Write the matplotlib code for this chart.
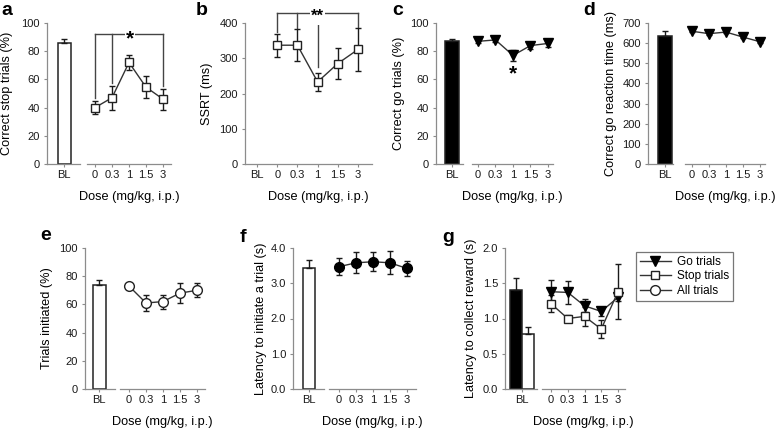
import matplotlib
matplotlib.use('Agg')
import matplotlib.pyplot as plt
from matplotlib.lines import Line2D

plt.rcParams['font.family'] = ['Liberation Sans', 'DejaVu Sans']

# ---------------- data ----------------
doses = ['0', '0.3', '1', '1.5', '3']
bl_label = 'BL'
xlabel_txt = 'Dose (mg/kg, i.p.)'

a_bl, a_bl_err = 86, 2.4
a_mean = [40, 47, 72, 54.5, 46]
a_err = [4.5, 8.4, 5.4, 8, 7.5]

b_mean = [337, 337, 233, 285, 325]
b_err = [33, 45, 25, 43, 60]

c_bl, c_bl_err = 87, 2
c_mean = [87, 88, 77, 84, 85.5]
c_err = [1.5, 1.5, 3.8, 2.5, 2.5]

d_bl, d_bl_err = 633, 28
d_mean = [659, 647, 655, 630, 607]
d_err = [6, 6, 6, 6, 6]

e_bl, e_bl_err = 74, 3
e_mean = [73, 61, 62, 68, 70]
e_err = [2, 6, 5, 7, 5]

f_bl, f_bl_err = 3.44, 0.21
f_mean = [3.47, 3.58, 3.61, 3.58, 3.42]
f_err = [0.24, 0.3, 0.27, 0.33, 0.21]

g_go_bl, g_go_bl_err = 1.40, 0.18
g_stop_bl, g_stop_bl_err = 0.78, 0.1
g_go = [1.38, 1.37, 1.18, 1.10, 1.30]
g_go_err = [0.17, 0.16, 0.09, 0.07, 0.05]
g_stop = [1.21, 1.0, 1.03, 0.85, 1.38]
g_stop_err = [0.12, 0.05, 0.14, 0.13, 0.39]
legend_labels = ['Go trials', 'Stop trials', 'All trials']

# ---------------- layout helpers ----------------
W, H = 776, 430
fig = plt.figure(figsize=(W / 100, H / 100), dpi=100)

SP = '#8c8c8c'
LC = '#333333'
EC = '#1a1a1a'
TICK_FS = 8
LAB_FS = 9.2
MS_SQ, MS_TRI, MS_CIR = 6.3, 7, 7


def add_ax(x0, x1, ytop, ybot):
    return fig.add_axes([x0 / W, 1 - ybot / H, (x1 - x0) / W, (ybot - ytop) / H])


def style(ax, left=True):
    for s in ['top', 'right']:
        ax.spines[s].set_visible(False)
    ax.spines['left'].set_visible(left)
    for s in ['left', 'bottom']:
        ax.spines[s].set_color(SP)
        ax.spines[s].set_linewidth(0.9)
    ax.tick_params(colors=SP, labelcolor='#1a1a1a', labelsize=TICK_FS,
                   length=2, width=0.8)
    ax.tick_params(axis='x', pad=2)
    ax.tick_params(axis='y', pad=3)
    if not left:
        ax.tick_params(axis='y', left=False, labelleft=False)
    ax.patch.set_visible(False)


def pair(x0, x1, c, d0, d1, t0, t4, ytop, ybot, ylim, yticks, yfmt, ylabel, ylab_right):
    axb = add_ax(x0, x1, ytop, ybot)
    axd = add_ax(d0, d1, ytop, ybot)
    style(axb)
    style(axd, left=False)
    for ax in (axb, axd):
        ax.set_ylim(*ylim)
    axb.set_yticks(yticks)
    axb.set_yticklabels([yfmt % v for v in yticks])
    axb.set_xlim(x0 - c, x1 - c)
    axb.set_xticks([0])
    axb.set_xticklabels([bl_label])
    step = (t4 - t0) / 4
    axd.set_xlim(-(t0 - d0) / step, 4 + (d1 - t4) / step)
    axd.set_xticks(range(5))
    axd.set_xticklabels(doses)
    axb.set_ylabel(ylabel, fontsize=LAB_FS)
    axb.yaxis.set_label_coords((ylab_right - x0) / (x1 - x0), 0.5)
    axd.set_xlabel(xlabel_txt, fontsize=LAB_FS)
    axd.xaxis.set_label_coords(0.5, -(27) / (ybot - ytop))
    return axb, axd


def line(ax, x, m, e, marker, mfc, ms, mec='#222'):
    ax.errorbar(x, m, yerr=e, fmt='-', color=LC, lw=1, ecolor=EC, elinewidth=1,
                capsize=2.5, capthick=1, marker=marker, ms=ms, mfc=mfc, mec=mec,
                mew=1, zorder=3)
    for art in ax.lines + ax.collections:
        art.set_clip_on(False)


def bar(ax, x, v, e, fc, w):
    ax.bar([x], [v], width=w, color=fc, edgecolor='#222', linewidth=1.1, zorder=2)
    ax.errorbar([x], [v], yerr=[[0], [e]], fmt='none', ecolor=EC, elinewidth=1,
                capsize=2.5, capthick=1, zorder=2)
    for art in ax.lines + ax.collections:
        art.set_clip_on(False)


def plabel(x, y, t):
    fig.text(x / W, 1 - y / H, t, fontsize=14, fontweight='bold', va='baseline', ha='left')


x5 = list(range(5))
TOP = (23, 164)
BOT = (248, 389)
BR = '#444444'

# ---------------- panel a ----------------
axb, axd = pair(47, 80, 64, 87, 171, 95, 163, *TOP, (0, 100), range(0, 101, 20), '%d',
                'Correct stop trials (%)', 13)
bar(axb, 0, a_bl, a_bl_err, 'white', 13)
line(axd, x5, a_mean, a_err, 's', 'white', MS_SQ)
yb = 92.5
axd.plot([0, 4], [yb, yb], color=BR, lw=1, clip_on=False)
for i in [0, 1, 4]:
    axd.plot([i, i], [yb, a_mean[i] + a_err[i] + 2], color=BR, lw=1, clip_on=False)
axd.text(2.05, yb - 3.5, '*', ha='center', va='center', fontsize=15, fontweight='bold',
         bbox=dict(facecolor='white', edgecolor='none', pad=0.5))
plabel(1, 15, 'a')

# ---------------- panel b ----------------
axb2 = add_ax(245, 372, *TOP)
style(axb2)
step = (358 - 257) / 5
axb2.set_xlim(-(257 - 245) / step, 5 + (372 - 358) / step)
axb2.set_ylim(0, 400)
axb2.set_yticks(range(0, 401, 100))
axb2.set_xticks(range(6))
axb2.set_xticklabels([bl_label] + doses)
axb2.set_ylabel('SSRT (ms)', fontsize=LAB_FS)
axb2.yaxis.set_label_coords((213 - 245) / 127, 0.5)
axb2.set_xlabel(xlabel_txt, fontsize=LAB_FS)
axb2.xaxis.set_label_coords((318 - 245) / 127, -27 / 141)
xb = [i + 1 for i in x5]
line(axb2, xb, b_mean, b_err, 's', 'white', MS_SQ)
yb = 428
axb2.plot([xb[0], xb[4]], [yb, yb], color=BR, lw=1, clip_on=False)
for i in [0, 1, 4]:
    axb2.plot([xb[i], xb[i]], [yb, b_mean[i] + b_err[i] + 5], color=BR, lw=1, clip_on=False)
axb2.plot([xb[2], xb[2]], [yb - 20, b_mean[2] + b_err[2] + 18], color=BR, lw=1, clip_on=False)
axb2.text(xb[2], yb - 10, '**', ha='center', va='center', fontsize=12, fontweight='bold',
          bbox=dict(facecolor='white', edgecolor='none', pad=0.5))
plabel(196, 15, 'b')

# ---------------- panel c ----------------
axb, axd = pair(436, 463, 452, 472, 553, 478, 548, *TOP, (0, 100), range(0, 101, 20), '%d',
                'Correct go trials (%)', 405)
bar(axb, 0, c_bl, c_bl_err, 'black', 14)
line(axd, x5, c_mean, c_err, 'v', 'black', MS_TRI, mec='black')
axd.text(2, 64, '*', ha='center', va='center', fontsize=15, fontweight='bold')
plabel(392, 15, 'c')

# ---------------- panel d ----------------
axb, axd = pair(648, 673, 665, 685, 765, 692, 760, *TOP, (0, 700), range(0, 701, 100), '%d',
                'Correct go reaction time (ms)', 617)
bar(axb, 0, d_bl, d_bl_err, 'black', 14)
line(axd, x5, d_mean, d_err, 'v', 'black', MS_TRI, mec='black')
plabel(583, 15, 'd')

# ---------------- panel e ----------------
axb, axd = pair(85, 115, 99, 120, 205, 129, 197, *BOT, (0, 100), range(0, 101, 20), '%d',
                'Trials initiated (%)', 53)
bar(axb, 0, e_bl, e_bl_err, 'white', 13)
line(axd, x5, e_mean, e_err, 'o', 'white', MS_CIR)
plabel(40, 240, 'e')

# ---------------- panel f ----------------
axb, axd = pair(293, 324, 309, 329, 416, 339, 407, *BOT, (0, 4), [0, 1, 2, 3, 4], '%.1f',
                'Latency to initiate a trial (s)', 267)
bar(axb, 0, f_bl, f_bl_err, 'white', 12)
line(axd, x5, f_mean, f_err, 'o', 'black', MS_CIR, mec='black')
plabel(240, 242, 'f')

# ---------------- panel g ----------------
axb, axd = pair(505, 537, 522, 542, 625, 551, 618, *BOT, (0, 2), [0, 0.5, 1, 1.5, 2], '%.1f',
                'Latency to collect reward (s)', 477)
bar(axb, -6, g_go_bl, g_go_bl_err, 'black', 12)
bar(axb, 6, g_stop_bl, g_stop_bl_err, 'white', 12)
line(axd, x5, g_go, g_go_err, 'v', 'black', MS_TRI, mec='black')
line(axd, x5, g_stop, g_stop_err, 's', 'white', MS_SQ)
plabel(442, 242, 'g')

handles = [
    Line2D([], [], color=LC, lw=1, marker='v', ms=MS_TRI, mfc='black', mec='black'),
    Line2D([], [], color=LC, lw=1, marker='s', ms=MS_SQ, mfc='white', mec='#222'),
    Line2D([], [], color=LC, lw=1, marker='o', ms=MS_CIR, mfc='white', mec='#222'),
]
leg = fig.legend(handles, legend_labels, loc='upper left',
                 bbox_to_anchor=(636 / W, 1 - 252 / H), frameon=True, fancybox=False,
                 fontsize=8.5, handlelength=2.6, borderpad=0.35, labelspacing=0.2,
                 handletextpad=0.5, borderaxespad=0)
leg.get_frame().set_edgecolor('#555')
leg.get_frame().set_linewidth(0.9)

fig.savefig('out.png', dpi=100)
